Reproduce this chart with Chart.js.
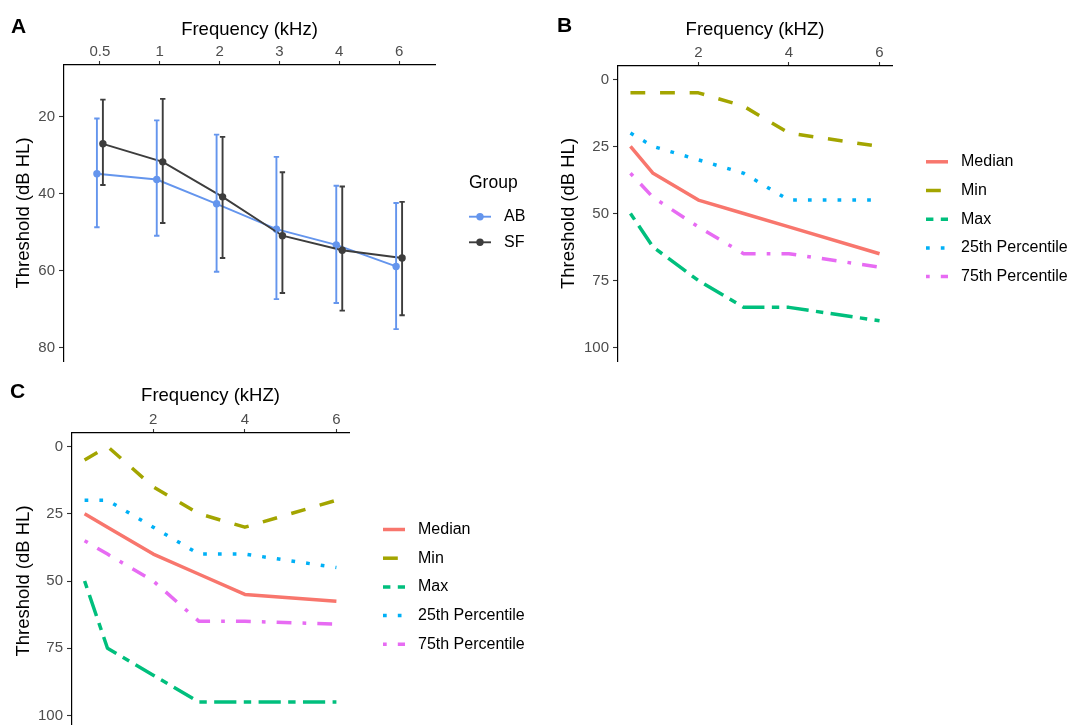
<!DOCTYPE html>
<html>
<head>
<meta charset="utf-8">
<script src="https://cdn.jsdelivr.net/npm/chart.js@4.4.1/dist/chart.umd.min.js"></script>
<style>
  html, body { margin: 0; padding: 0; background: #fff; overflow: hidden; }
  #wrap { position: relative; width: 1071px; height: 725px; }
  canvas { position: absolute; }
</style>
</head>
<body>
<div id="wrap">
  <canvas id="panel-a" width="545" height="365" style="left:0;top:0"></canvas>
  <canvas id="panel-b" width="526" height="365" style="left:545px;top:0"></canvas>
  <canvas id="panel-c" width="545" height="370" style="left:0;top:370px"></canvas>
</div>
<script>
'use strict';

// panel A: group means with error bars (dB HL)
const freqLabelsA = ['0.5', '1', '2', '3', '4', '6'];
const abMean = [34.8, 36.3, 42.6, 49.2, 53.3, 58.9];
const abLow = [20.4, 20.9, 24.6, 30.4, 37.9, 42.4];
const abHigh = [48.7, 50.9, 60.3, 67.4, 68.4, 75.2];
const sfMean = [27, 31.7, 40.8, 50.9, 54.7, 56.7];
const sfLow = [15.5, 15.3, 25.2, 34.4, 38.1, 42.1];
const sfHigh = [37.7, 47.6, 56.7, 65.8, 70.4, 71.6];
const yTicksA = [20, 40, 60, 80];

// panels B and C: summary curves
const freqKhz = [0.5, 1, 2, 3, 4, 6];
const xTicksBC = [2, 4, 6];
const yTicksBC = [0, 25, 50, 75, 100];
const seriesNames = ['Median', 'Min', 'Max', '25th Percentile', '75th Percentile'];

const bMedian = [25, 35, 45, 50, 55, 65];
const bMin = [5, 5, 5, 10, 20, 25];
const bMax = [50, 62.5, 75, 85, 85, 90];
const bP25 = [20, 25, 30, 35, 45, 45];
const bP75 = [35, 44, 55, 65, 65, 70];

const cMedian = [25, 30, 40, 47.5, 55, 57.5];
const cMin = [5, 0, 15, 25, 30, 20];
const cMax = [50, 75, 85, 95, 95, 95];
const cP25 = [20, 20, 30, 40, 40, 45];
const cP75 = [35, 40, 50, 65, 65, 66];

const FONT = '"Liberation Sans", Arial, sans-serif';
Chart.defaults.font.family = FONT;

const seriesColors = ['#F8766D', '#A3A500', '#00BF7D', '#00B0F6', '#E76BF3'];
const u = 3.7; // dash unit
const seriesDash = [[], [4 * u, 4 * u], [2 * u, 2 * u, 6 * u, 2 * u], [u, 3 * u], [u, 3 * u, 4 * u, 3 * u]];
const dodge = 0.05;

// draws panel letter and a legend beside the plot area
function makeDecor(cfg) {
  return {
    id: 'decor',
    afterDraw(chart) {
      const ctx = chart.ctx;
      const area = chart.chartArea;
      const mid = (area.top + area.bottom) / 2;
      ctx.save();
      ctx.fillStyle = '#000';
      ctx.font = 'bold 21px ' + FONT;
      ctx.textBaseline = 'alphabetic';
      ctx.fillText(cfg.letter, cfg.letterX, cfg.letterY);

      ctx.textBaseline = 'middle';
      if (cfg.title) {
        ctx.font = '17.5px ' + FONT;
        ctx.fillText(cfg.title, area.right + 34, mid + cfg.titleShift);
      }
      ctx.font = '16px ' + FONT;
      cfg.items.forEach((item, i) => {
        const y = mid + cfg.firstRow + i * cfg.rowGap;
        const x0 = area.right + 34;
        const x1 = area.right + 56;
        ctx.beginPath();
        ctx.setLineDash(item.dash);
        ctx.lineCap = 'butt';
        ctx.lineWidth = item.width;
        ctx.strokeStyle = item.color;
        ctx.moveTo(x0, y);
        ctx.lineTo(x1, y);
        ctx.stroke();
        ctx.setLineDash([]);
        if (item.point) {
          ctx.beginPath();
          ctx.fillStyle = item.color;
          ctx.arc((x0 + x1) / 2, y, item.point, 0, Math.PI * 2);
          ctx.fill();
        }
        ctx.fillStyle = '#000';
        ctx.fillText(item.label, area.right + 69, y);
      });
      ctx.restore();
    }
  };
}

// vertical error bars with caps, placed through the chart scales
function makeErrorBars(sets) {
  return {
    id: 'errorBars',
    afterDatasetsDraw(chart) {
      const ctx = chart.ctx;
      const xs = chart.scales.x;
      const ys = chart.scales.y;
      sets.forEach(set => {
        ctx.save();
        ctx.strokeStyle = set.color;
        ctx.lineWidth = 1.9;
        set.low.forEach((lo, i) => {
          const xv = i + 1 + set.shift;
          const px = xs.getPixelForValue(xv);
          const cap = xs.getPixelForValue(xv + 0.045) - px;
          const top = ys.getPixelForValue(lo);
          const bot = ys.getPixelForValue(set.high[i]);
          ctx.beginPath();
          ctx.moveTo(px, top);
          ctx.lineTo(px, bot);
          ctx.moveTo(px - cap, top);
          ctx.lineTo(px + cap, top);
          ctx.moveTo(px - cap, bot);
          ctx.lineTo(px + cap, bot);
          ctx.stroke();
        });
        ctx.restore();
      });
    }
  };
}

const tickFont = { size: 15 };
const titleFont = { size: 18.5 };

function yAxis(ticks, min, max, width) {
  return {
    type: 'linear',
    reverse: true,
    min: min,
    max: max,
    afterBuildTicks: axis => { axis.ticks = ticks.map(v => ({ value: v })); },
    afterFit: axis => {
      axis.width = width;
      axis.paddingTop = 0;
      axis.paddingBottom = 0;
    },
    grid: { drawOnChartArea: false, drawTicks: true, tickLength: 5, tickColor: '#333333', tickWidth: 1.1 },
    border: { color: '#000000', width: 1.2 },
    ticks: { color: '#4D4D4D', font: tickFont, padding: 4, autoSkip: false },
    title: { display: true, text: 'Threshold (dB HL)', color: '#000', font: titleFont, padding: { top: 13, bottom: 0 } }
  };
}

function xAxis(ticks, min, max, height, titleText, titlePad, labelFn) {
  return {
    type: 'linear',
    position: 'top',
    min: min,
    max: max,
    afterBuildTicks: axis => { axis.ticks = ticks.map(v => ({ value: v })); },
    afterFit: axis => {
      axis.height = height;
      axis.paddingLeft = 0;
      axis.paddingRight = 0;
    },
    grid: { drawOnChartArea: false, drawTicks: true, tickLength: 4, tickColor: '#333333', tickWidth: 1.1 },
    border: { color: '#000000', width: 1.2 },
    ticks: { color: '#4D4D4D', font: tickFont, padding: 0, autoSkip: false, maxRotation: 0,
      callback: labelFn || (v => String(v)) },
    title: { display: true, text: titleText, color: '#000', font: titleFont, padding: { top: titlePad, bottom: 0 } }
  };
}

function baseOptions(pad) {
  return {
    responsive: false,
    animation: false,
    devicePixelRatio: 1,
    events: [],
    layout: { padding: pad },
    plugins: { legend: { display: false }, tooltip: { enabled: false } }
  };
}

// ----- panel A -----
function groupDataset(label, values, color, shift, order) {
  return {
    label: label,
    data: values.map((v, i) => ({ x: i + 1 + shift, y: v })),
    borderColor: color,
    backgroundColor: color,
    borderWidth: 1.9,
    pointRadius: 3.7,
    pointBorderWidth: 0,
    tension: 0,
    order: order
  };
}

const optsA = baseOptions({ left: 0, top: 0, right: 110, bottom: 4 });
optsA.scales = {
  x: xAxis([1, 2, 3, 4, 5, 6], 0.4, 6.6, 65, 'Frequency (kHz)', 18.5, v => freqLabelsA[v - 1]),
  y: yAxis(yTicksA, 6.5, 83.5, 64)
};

new Chart(document.getElementById('panel-a'), {
  type: 'line',
  data: {
    datasets: [
      groupDataset('AB', abMean, '#6495ED', -dodge, 2),
      groupDataset('SF', sfMean, '#3D3D3D', dodge, 1)
    ]
  },
  options: optsA,
  plugins: [
    makeErrorBars([
      { low: abLow, high: abHigh, color: '#6495ED', shift: -dodge },
      { low: sfLow, high: sfHigh, color: '#3D3D3D', shift: dodge }
    ]),
    makeDecor({
      letter: 'A', letterX: 11, letterY: 33,
      title: 'Group', titleShift: -30,
      firstRow: 3.7, rowGap: 25.6,
      items: [
        { label: 'AB', color: '#6495ED', dash: [], width: 1.9, point: 3.7 },
        { label: 'SF', color: '#3D3D3D', dash: [], width: 1.9, point: 3.7 }
      ]
    })
  ]
});

// ----- panels B and C -----
function summaryChart(id, seriesList, layout) {
  const opts = baseOptions(layout.pad);
  opts.scales = {
    x: xAxis(xTicksBC, 0.225, 6.275, layout.xHeight, 'Frequency (kHZ)', layout.titlePad),
    y: yAxis(yTicksBC, -5, 105, layout.yWidth)
  };
  const datasets = seriesList.map((values, k) => ({
    label: seriesNames[k],
    data: values.map((v, i) => ({ x: freqKhz[i], y: v })),
    borderColor: seriesColors[k],
    borderWidth: 3.5,
    borderDash: seriesDash[k],
    borderCapStyle: 'butt',
    borderJoinStyle: 'round',
    pointRadius: 0,
    tension: 0,
    order: k
  }));
  new Chart(document.getElementById(id), {
    type: 'line',
    data: { datasets: datasets },
    options: opts,
    plugins: [
      makeDecor({
        letter: layout.letter, letterX: layout.letterX, letterY: layout.letterY,
        firstRow: layout.firstRow, rowGap: 28.7,
        items: seriesNames.map((name, k) => ({ label: name, color: seriesColors[k], dash: seriesDash[k], width: 3.5 }))
      })
    ]
  });
}

summaryChart('panel-b', [bMedian, bMin, bMax, bP25, bP75], {
  pad: { left: 0, top: 0, right: 179, bottom: 4 },
  xHeight: 66, yWidth: 73, titlePad: 18.5,
  letter: 'B', letterX: 12, letterY: 32, firstRow: -51.7
});

summaryChart('panel-c', [cMedian, cMin, cMax, cP25, cP75], {
  pad: { left: 0, top: 0, right: 196, bottom: 11 },
  xHeight: 63, yWidth: 72, titlePad: 15,
  letter: 'C', letterX: 10, letterY: 28, firstRow: -51.5
});
</script>
</body>
</html>
